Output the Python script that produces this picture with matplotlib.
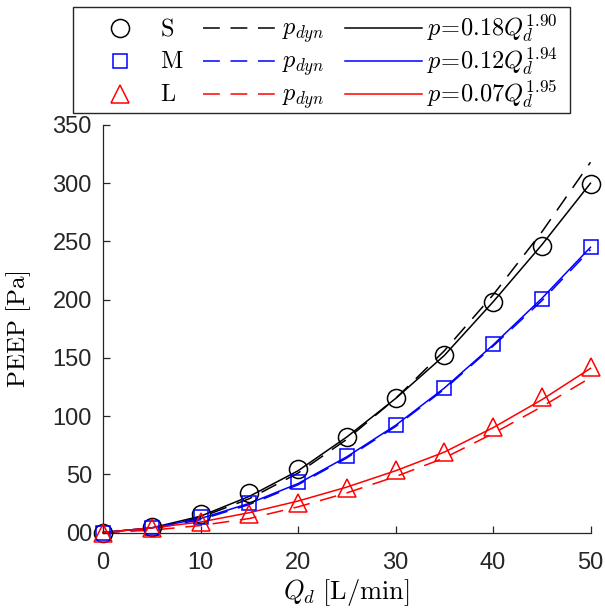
import matplotlib
matplotlib.use("Agg")
import matplotlib.pyplot as plt
from matplotlib.lines import Line2D
from matplotlib.patches import Rectangle

plt.rcParams['mathtext.fontset'] = 'cm'
plt.rcParams['font.family'] = ['Liberation Sans', 'DejaVu Sans']

# flow rate (L/min)
q = [0, 5, 10, 15, 20, 25, 30, 35, 40, 45, 50]

# measured PEEP for the three sizes
peep_s = [0, 5, 16, 34, 54.5, 82, 115.5, 152.5, 198, 246, 299]
peep_m = [0, 4, 13.5, 25, 43, 66, 92.5, 124, 162, 200.5, 245]
peep_l = [0, 4, 9, 16, 25, 38, 54, 69, 91, 116, 142]

# dynamic pressure curves
dyn_s = [0, 3, 13, 29, 51, 80, 115, 156, 204, 258, 318]
dyn_m = [0, 3, 11, 24, 41, 64, 91, 123, 160, 199, 243]
dyn_l = [0, 2, 6, 12, 22, 34, 48, 64, 85, 108, 133]

# power-law fits
fit_s = [0, 4, 14, 31, 53, 82, 115, 152, 198, 247, 300]
fit_m = [0, 4, 12, 25, 42, 65, 92, 124, 161, 201, 245]
fit_l = [0, 4, 9, 17, 27, 39, 53, 69, 90, 114, 141]

sizes = ['S', 'M', 'L']
fit_labels = [r'$p\!=\!0.18Q_d^{1.90}$', r'$p\!=\!0.12Q_d^{1.94}$',
              r'$p\!=\!0.07Q_d^{1.95}$']

colors = ['black', '#0000ff', '#ff0000']
markers = ['o', 's', '^']
msizes = [13, 10, 13]
gray = '#262626'

W, H = 605, 613
fig = plt.figure(figsize=(W / 100, H / 100), dpi=100)
ax = fig.add_axes([103 / W, 1 - 532.5 / H, (590.5 - 103) / W, (532.5 - 125) / H])

dash = (11, 7)
for peep, dyn, fit, c, m, ms in zip([peep_s, peep_m, peep_l], [dyn_s, dyn_m, dyn_l],
                                     [fit_s, fit_m, fit_l], colors, markers, msizes):
    ax.plot(q, peep, linestyle='none', marker=m, markersize=ms, markerfacecolor='none',
            markeredgecolor=c, markeredgewidth=1.1, clip_on=False, zorder=3)
    ax.plot(q, dyn, color=c, linewidth=1.1, dashes=dash, clip_on=False)
    ax.plot(q, fit, color=c, linewidth=1.1, clip_on=False)

ax.set_xlim(0, 50)
ax.set_ylim(0, 350)
ax.set_xticks(range(0, 51, 10))
ax.set_yticks(range(0, 351, 50))
ax.set_yticklabels(['00'] + [str(v) for v in range(50, 351, 50)])
for s in ['top', 'right']:
    ax.spines[s].set_visible(False)
for s in ['left', 'bottom']:
    ax.spines[s].set_color(gray)
    ax.spines[s].set_linewidth(0.9)
ax.tick_params(direction='in', length=5, width=0.9, color=gray, labelcolor=gray,
               labelsize=17)
ax.tick_params(axis='x', pad=14)
ax.tick_params(axis='y', pad=8)

ax.set_xlabel(r'$Q_d$ $\mathrm{[L/min]}$', fontsize=19, labelpad=2)
ax.set_ylabel(r'$\mathrm{PEEP\ [Pa]}$', fontsize=18, labelpad=14)


# legend laid out by hand so that the three columns share row positions
def fx(px):
    return px / W


def fy(px):
    return 1 - px / H


leg_fs = 17.5
row_y = [28.3, 61.3, 94.3]
for i in range(3):
    y = row_y[i]
    c = colors[i]
    fig.add_artist(Line2D([fx(120)], [fy(y)], transform=fig.transFigure, linestyle='none',
                          marker=markers[i], markersize=msizes[i], markerfacecolor='none',
                          markeredgecolor=c, markeredgewidth=1.1))
    fig.text(fx(160), fy(y + 7), r'$\mathrm{%s}$' % sizes[i], fontsize=leg_fs,
             va='baseline', ha='left')
    fig.add_artist(Line2D([fx(203), fx(278)], [fy(y), fy(y)], transform=fig.transFigure,
                          color=c, linewidth=1.1, dashes=dash))
    fig.text(fx(282), fy(y + 7), r'$p_{dyn}$', fontsize=leg_fs, va='baseline', ha='left')
    fig.add_artist(Line2D([fx(345), fx(422)], [fy(y), fy(y)], transform=fig.transFigure,
                          color=c, linewidth=1.1))
    fig.text(fx(427), fy(y + 7), fit_labels[i], fontsize=leg_fs, va='baseline', ha='left')

fig.patches.append(Rectangle((fx(73), fy(113)), (570 - 73) / W, 106 / H,
                             transform=fig.transFigure, fill=False,
                             edgecolor=gray, linewidth=1.0))

fig.savefig('out.png', dpi=100)
